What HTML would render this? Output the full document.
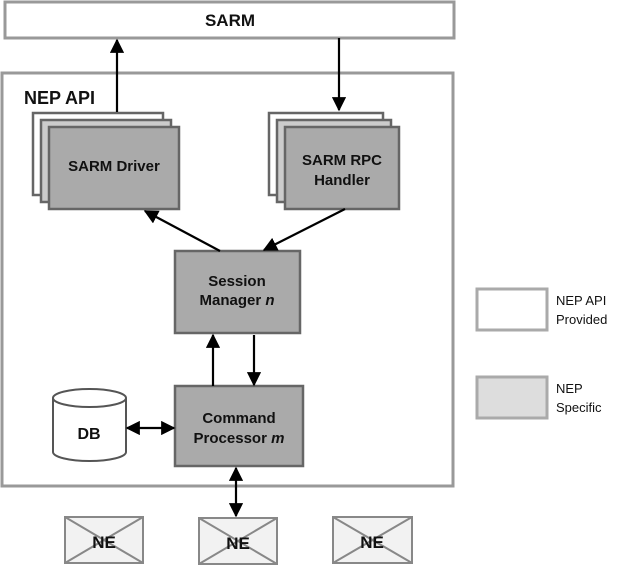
<!DOCTYPE html>
<html><head><style>body{margin:0;background:#fff}svg{display:block}text{font-family:"Liberation Sans",sans-serif;font-weight:bold;fill:#111}</style></head><body>
<svg width="617" height="571" viewBox="0 0 617 571" xmlns="http://www.w3.org/2000/svg">
<defs><marker id="a" viewBox="0 0 10 10" refX="9" refY="5" markerWidth="6.5" markerHeight="6.5" orient="auto-start-reverse"><path d="M0,0L10,5L0,10z" fill="#000"/></marker></defs>
<rect x="5" y="2" width="449" height="36" fill="#fff" stroke="#999" stroke-width="3"/>
<text x="230" y="26" font-size="17" text-anchor="middle">SARM</text>
<rect x="2" y="73" width="451" height="413" fill="#fff" stroke="#999" stroke-width="3"/>
<text x="24" y="104" font-size="18">NEP API</text>
<g stroke="#666" stroke-width="2.5">
<rect x="33" y="113" width="130" height="82" fill="#fff"/>
<rect x="41" y="120" width="130" height="82" fill="#ccc"/>
<rect x="49" y="127" width="130" height="82" fill="#aaa"/>
<rect x="269" y="113" width="114" height="82" fill="#fff"/>
<rect x="277" y="120" width="114" height="82" fill="#ccc"/>
<rect x="285" y="127" width="114" height="82" fill="#aaa"/>
<rect x="175" y="251" width="125" height="82" fill="#aaa"/>
<rect x="175" y="386" width="128" height="80" fill="#aaa"/>
</g>
<text x="114" y="171" font-size="15" text-anchor="middle">SARM Driver</text>
<text x="342" y="165" font-size="15" text-anchor="middle">SARM RPC</text>
<text x="342" y="185" font-size="15" text-anchor="middle">Handler</text>
<text x="237" y="286" font-size="15" text-anchor="middle">Session</text>
<text x="237" y="305" font-size="15" text-anchor="middle">Manager <tspan font-style="italic">n</tspan></text>
<text x="239" y="423" font-size="15" text-anchor="middle">Command</text>
<text x="239" y="443" font-size="15" text-anchor="middle">Processor <tspan font-style="italic">m</tspan></text>
<g stroke="#555" stroke-width="2" fill="#fff">
<path d="M53,398 L53,452 A36.5,9 0 0 0 126,452 L126,398"/>
<ellipse cx="89.5" cy="398" rx="36.5" ry="9"/>
</g>
<text x="89" y="439" font-size="16" text-anchor="middle">DB</text>
<g stroke="#000" stroke-width="2.2" fill="none">
<line x1="117" y1="112" x2="117" y2="40" marker-end="url(#a)"/>
<line x1="339" y1="38" x2="339" y2="110" marker-end="url(#a)"/>
<line x1="220" y1="251" x2="145" y2="211" marker-end="url(#a)"/>
<line x1="345" y1="209" x2="264" y2="250" marker-end="url(#a)"/>
<line x1="213" y1="386" x2="213" y2="335" marker-end="url(#a)"/>
<line x1="254" y1="335" x2="254" y2="385" marker-end="url(#a)"/>
<line x1="127" y1="428" x2="174" y2="428" marker-start="url(#a)" marker-end="url(#a)"/>
<line x1="236" y1="468" x2="236" y2="516" marker-start="url(#a)" marker-end="url(#a)"/>
</g>
<g stroke="#888" stroke-width="2" fill="#f2f2f2">
<rect x="65" y="517" width="78" height="46"/><path d="M65,517L143,563M143,517L65,563"/>
<rect x="199" y="518" width="78" height="46"/><path d="M199,518L277,564M277,518L199,564"/>
<rect x="333" y="517" width="79" height="46"/><path d="M333,517L412,563M412,517L333,563"/>
</g>
<text x="104" y="548" font-size="17" text-anchor="middle">NE</text>
<text x="238" y="549" font-size="17" text-anchor="middle">NE</text>
<text x="372" y="548" font-size="17" text-anchor="middle">NE</text>
<rect x="477" y="289" width="70" height="41" fill="#fff" stroke="#aaa" stroke-width="3"/>
<rect x="477" y="377" width="70" height="41" fill="#ddd" stroke="#aaa" stroke-width="3"/>
<text x="556" y="305" font-size="13" style="font-weight:normal">NEP API</text>
<text x="556" y="324" font-size="13" style="font-weight:normal">Provided</text>
<text x="556" y="393" font-size="13" style="font-weight:normal">NEP</text>
<text x="556" y="412" font-size="13" style="font-weight:normal">Specific</text>
</svg>
</body></html>
